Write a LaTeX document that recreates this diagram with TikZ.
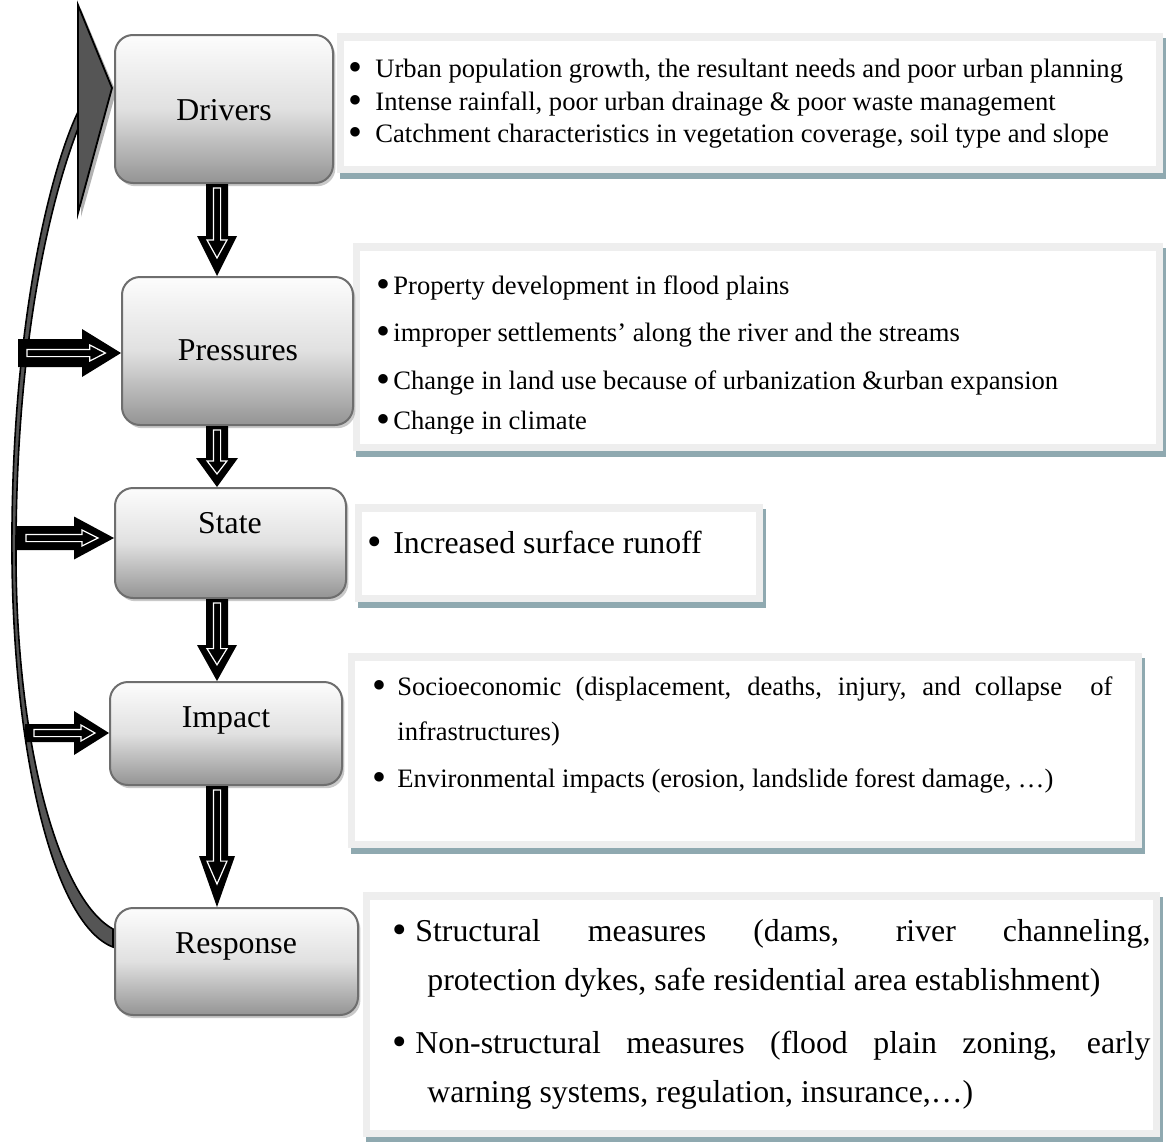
\documentclass[tikz,border=0pt]{standalone}
\usepackage{fontspec}
\setmainfont{Liberation Serif}
\usetikzlibrary{calc,shadows}
\definecolor{boxline}{HTML}{6E6E6E}
\definecolor{framegray}{HTML}{EEEEEE}
\definecolor{tshadow}{HTML}{8FA9B0}
\definecolor{bandgray}{HTML}{555555}

% bullet hanging left of the text: #1 gap from bullet centre to text, #2 scale, #3 lowering
\newcommand\bul[3]{\llap{\makebox[0pt][c]{\raisebox{-#3}{\scalebox{#2}{\textbullet}}}\hspace{#1}}}
\newcommand\bs[1]{\bul{#1}{1.5}{1.5pt}}
\newcommand\bL[1]{\bul{#1}{1.3}{1pt}}

% vertical block arrow: start, end, shaft half, head half, head length
\newcommand\barrowV[5]{%
 \fill[black] let \p1=#1, \p2=#2 in
  (\x1-#3,\y1) -- (\x1+#3,\y1) -- (\x1+#3,\y2+#5) -- (\x1+#4,\y2+#5) -- (\x1,\y2)
  -- (\x1-#4,\y2+#5) -- (\x1-#3,\y2+#5) -- cycle;
 \draw[white, line width=0.6pt, fill=black, line join=miter] let \p1=#1, \p2=#2 in
  (\x1-1.8pt,\y1-2pt) -- (\x1+1.8pt,\y1-2pt) -- (\x1+1.8pt,\y2+0.9*#5) -- (\x1+5pt,\y2+0.9*#5)
  -- (\x1,\y2+0.45*#5) -- (\x1-5pt,\y2+0.9*#5) -- (\x1-1.8pt,\y2+0.9*#5) -- cycle;
}
% horizontal block arrow: start, end, shaft half, head half, head length
\newcommand\barrowH[5]{%
 \fill[black] let \p1=#1, \p2=#2 in
  (\x1,\y1+#3) -- (\x2-#5,\y1+#3) -- (\x2-#5,\y1+#4) -- (\x2,\y1) -- (\x2-#5,\y1-#4)
  -- (\x2-#5,\y1-#3) -- (\x1,\y1-#3) -- cycle;
 \draw[white, line width=0.6pt, fill=black, line join=miter] let \p1=#1, \p2=#2 in
  (\x1+4.5pt,\y1+1.8pt) -- (\x2-0.8*#5,\y1+1.8pt) -- (\x2-0.8*#5,\y1+4pt) -- (\x2-0.4*#5,\y1)
  -- (\x2-0.8*#5,\y1-4pt) -- (\x2-0.8*#5,\y1-1.8pt) -- (\x1+4.5pt,\y1-1.8pt) -- cycle;
}
% text panel: x1,y1,x2,y2 (px)
\newcommand\tpanel[4]{%
 \fill[tshadow] (#1+3,#2+5) rectangle (#3+3,#4+6);
 \fill[framegray] (#1,#2) rectangle (#3,#4);
 \fill[white] (#1+7,#2+8) rectangle (#3-7,#4-7);
}

\tikzset{
 dbox/.style={draw=boxline, line width=1pt, rounded corners=9pt,
   top color=black!1, bottom color=black!42, middle color=black!12,
   drop shadow={shadow xshift=1.2pt, shadow yshift=-1.6pt, fill=black!35, opacity=0.6},
   inner sep=0pt},
 lab/.style={anchor=base, inner sep=0pt, font=\fontsize{15.9}{19}\selectfont},
 sm/.style={anchor=base west, inner sep=0pt, font=\fontsize{13.3}{16}\selectfont},
 lg/.style={anchor=base west, inner sep=0pt, font=\fontsize{15.9}{19}\selectfont},
}

\begin{document}
\begin{tikzpicture}[x=0.5pt,y=-0.5pt]
\useasboundingbox (0,0) rectangle (1166,1141);
\fill[white] (0,0) rectangle (1166,1141);

% text panels
\tpanel{337}{33}{1163}{173}
\tpanel{353}{243}{1163}{451}
\tpanel{355}{504}{763}{602}
\tpanel{348}{653}{1142}{848}
\tpanel{363}{892}{1160}{1137}

% feedback curved arrow
\filldraw[fill=bandgray, draw=black, line width=0.8pt]
  (78,112) .. controls (50,170) and (10,330) .. (12,560)
  .. controls (14,760) and (55,925) .. (113,947)
  -- (113,929) .. controls (60,900) and (17,750) .. (16,560)
  .. controls (15,335) and (53,192) .. (79,126) -- cycle;
\fill[black!30] (81,9) -- (116,92) -- (81,217) -- cycle;
\filldraw[fill=bandgray, draw=black, line width=0.9pt, line join=miter]
  (78,5) -- (112,88) -- (78,213) -- cycle;

% stage boxes
\node[dbox, minimum width=109pt, minimum height=74pt] (drv) at (224,109) {};
\node[dbox, minimum width=115.5pt, minimum height=74pt] (prs) at (237.5,351) {};
\node[dbox, minimum width=115.5pt, minimum height=55pt] (sta) at (230.5,543) {};
\node[dbox, minimum width=116pt, minimum height=51.5pt] (imp) at (226,733.5) {};
\node[dbox, minimum width=121.5pt, minimum height=53.5pt] (rsp) at (236.5,961.5) {};

\node[lab] (drvL) at (224,120) {Drivers};
\node[lab] (prsL) at (238,360) {Pressures};
\node[lab] (staL) at (230,533) {State};
\node[lab] (impL) at (226,727) {Impact};
\node[lab] (rspL) at (236,953) {Response};

% vertical block arrows
\coordinate (ax) at (217,0);
\barrowV{(drv.south -| ax)}{(prs.north -| ax)}{5.5pt}{10pt}{20pt}
\barrowV{(prs.south -| ax)}{(sta.north -| ax)}{5.5pt}{10.5pt}{14.5pt}
\barrowV{(sta.south -| ax)}{(imp.north -| ax)}{5.5pt}{10pt}{18pt}
\barrowV{(imp.south -| ax)}{(rsp.north -| ax)}{5.5pt}{9pt}{25.5pt}

% horizontal block arrows from the feedback curve
\coordinate (hp) at (18,353);
\coordinate (hs) at (17,538);
\coordinate (hi) at (25,733);
\barrowH{(hp)}{(prs.west)}{7pt}{12pt}{19.5pt}
\barrowH{(hs)}{(sta.west)}{6pt}{10.75pt}{20pt}
\barrowH{(hi)}{(imp.west)}{4.5pt}{11pt}{17.5pt}

% Drivers text
\node[sm] (dt1) at (375,77) {\bs{10pt}Urban population growth, the resultant needs and poor urban planning};
\node[sm] (dt2) at (375,110) {\bs{10pt}Intense rainfall, poor urban drainage \& poor waste management};
\node[sm] (dt3) at (375,142) {\bs{10pt}Catchment characteristics in vegetation coverage, soil type and slope};

% Pressures text
\node[sm] (pt1) at (393,294) {\bs{5pt}Property development in flood plains};
\node[sm] (pt2) at (393,341) {\bs{5pt}improper settlements’ along the river and the streams};
\node[sm] (pt3) at (393,389) {\bs{5pt}Change in land use because of urbanization \&urban expansion};
\begin{scope}
\clip (353,243) rectangle (1163,433);
\node[sm] (pt4) at (393,429) {\bs{5pt}Change in climate};
\end{scope}

% State text
\node[lg] (st1) at (393,553) {\bL{9.5pt}Increased surface runoff};

% Impact text
\node[sm] (it1) at (397,695) {\bs{9pt}\makebox[357.5pt][s]{Socioeconomic (displacement, deaths, injury, and collapse\ \ of}};
\node[sm] (it2) at (397,740) {infrastructures)};
\node[sm] (it3) at (397,787) {\bs{9pt}Environmental impacts (erosion, landslide forest damage, …)};

% Response text
\node[lg] (rt1) at (415,941) {\bL{8pt}\makebox[367.5pt][s]{Structural measures (dams, river channeling,}};
\node[lg] (rt2) at (427,990) {protection dykes, safe residential area establishment)};
\node[lg] (rt3) at (415,1053) {\bL{8pt}\makebox[367.5pt][s]{Non-structural measures (flood plain zoning, early}};
\node[lg] (rt4) at (427,1102) {warning systems, regulation, insurance,…)};
\end{tikzpicture}
\end{document}
